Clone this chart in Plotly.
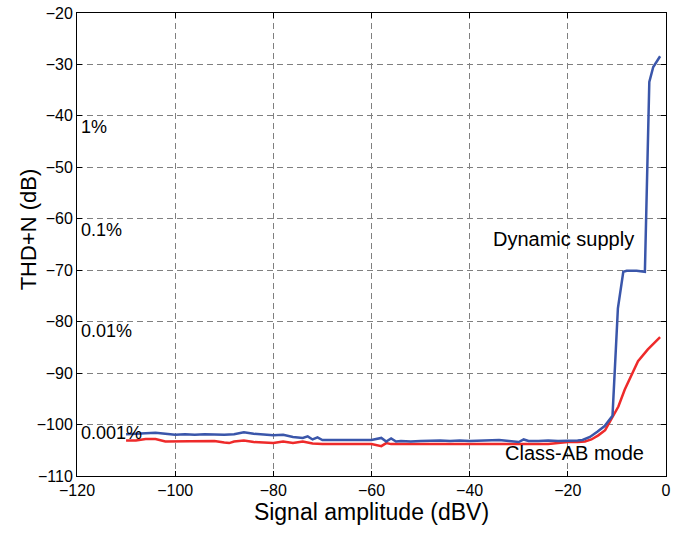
import plotly.graph_objects as go

# Dynamic supply (blue)
dyn_x = [-110, -108, -106, -104, -102, -100, -98, -96, -94, -92, -90, -88, -86, -84, -82,
         -80, -78, -76, -74, -73, -72, -71, -70, -68, -66, -64, -62, -60, -58, -57, -56,
         -55, -54, -52, -50, -48, -46, -44, -42, -40, -38, -36, -34, -32, -30, -29, -28,
         -26, -24, -22, -20, -18, -17, -15.5, -14, -12.5, -10.9, -9.8, -8.7, -8, -6,
         -4.3, -3.4, -2.6, -1.2]
dyn_y = [-101.9, -101.8, -101.7, -101.6, -101.8, -102.0, -101.9, -102.0, -101.9, -102.0,
         -102.0, -101.9, -101.5, -101.8, -101.9, -102.1, -102.0, -102.4, -102.6, -102.3,
         -102.9, -102.5, -103.0, -103.0, -103.0, -103.0, -103.0, -103.0, -102.6, -103.3,
         -102.7, -103.3, -103.2, -103.3, -103.2, -103.1, -103.1, -103.2, -103.1, -103.2,
         -103.1, -103.1, -103.0, -103.2, -103.4, -102.9, -103.2, -103.2, -103.1, -103.2,
         -103.2, -103.1, -103.0, -102.4, -101.4, -100.3, -98.3, -77.4, -70.3, -70.1,
         -70.1, -70.3, -33.4, -30.5, -28.4]

# Class-AB mode (red)
ab_x = [-110, -108, -106, -104, -102, -100, -98, -96, -94, -92, -90, -89, -88, -86, -84,
        -82, -80, -78, -76, -74, -72, -70, -66, -62, -60, -58, -57, -56, -52, -48, -44,
        -40, -36, -32, -28, -24, -22, -20, -18, -16.5, -15.2, -13.8, -12.4, -11, -9.7,
        -8.4, -7, -5.7, -3.7, -1.2]
ab_y = [-103.1, -103.1, -102.8, -102.8, -103.3, -103.3, -103.3, -103.3, -103.3, -103.2,
        -103.5, -103.6, -103.3, -103.1, -103.4, -103.5, -103.6, -103.3, -103.6, -103.3,
        -103.7, -103.8, -103.8, -103.8, -103.8, -104.2, -103.6, -103.8, -103.8, -103.9,
        -103.9, -103.9, -103.8, -103.9, -103.8, -103.8, -103.6, -103.4, -103.4, -103.3,
        -102.9, -102.1, -101.1, -98.6, -96.5, -93.2, -90.3, -87.7, -85.4, -83.0]

pct_labels = ["1%", "0.1%", "0.01%", "0.001%"]
pct_y = [-42.1, -62.1, -81.8, -101.7]

x_ticks = [-120, -100, -80, -60, -40, -20, 0]
y_ticks = [-110, -100, -90, -80, -70, -60, -50, -40, -30, -20]

FONT = "Liberation Sans, Arial, sans-serif"

fig = go.Figure()
fig.add_trace(go.Scatter(x=ab_x, y=ab_y, mode="lines", name="Class-AB mode",
                         line=dict(color="#ee2a2a", width=2.5)))
fig.add_trace(go.Scatter(x=dyn_x, y=dyn_y, mode="lines", name="Dynamic supply",
                         line=dict(color="#3a56aa", width=2.5)))

for t, yv in zip(pct_labels, pct_y):
    fig.add_annotation(x=-119.6, y=yv, text=t, showarrow=False, xanchor="left",
                       yanchor="middle", font=dict(size=18, color="black", family=FONT))

fig.add_annotation(x=-35.6, y=-64, text="Dynamic supply", showarrow=False, xanchor="left",
                   yanchor="middle", font=dict(size=20, color="black", family=FONT))
fig.add_annotation(x=-33.2, y=-105.5, text="Class-AB mode", showarrow=False, xanchor="left",
                   yanchor="middle", font=dict(size=20, color="black", family=FONT))

# y-axis title placed as an annotation (sits slightly above plot centre in reference)
fig.add_annotation(xref="paper", yref="paper", x=-0.083, y=0.533, text="THD+N (dB)",
                   textangle=-90, showarrow=False, xanchor="center", yanchor="middle",
                   font=dict(size=22, color="black", family=FONT))

axis_common = dict(
    showline=True, linecolor="black", linewidth=1, mirror="ticks",
    ticks="inside", ticklen=5, tickcolor="black",
    showgrid=True, gridcolor="#808080", gridwidth=1, griddash="6px,4px",
    zeroline=False, tickfont=dict(size=16, color="black", family=FONT),
)

fig.update_xaxes(range=[-120, 0], tickvals=x_ticks,
                 title=dict(text="Signal amplitude (dBV)", font=dict(size=23, color="black", family=FONT), standoff=5),
                 **axis_common)
fig.update_yaxes(range=[-110, -20], tickvals=y_ticks, **axis_common)

fig.update_layout(
    width=681, height=535,
    margin=dict(l=77, r=15, t=13, b=59, autoexpand=False),
    paper_bgcolor="white", plot_bgcolor="white",
    showlegend=False,
    font=dict(family=FONT, color="black"),
)

fig.write_html("out.html", config={"displayModeBar": False},
               post_script="document.body.style.margin='0';")
